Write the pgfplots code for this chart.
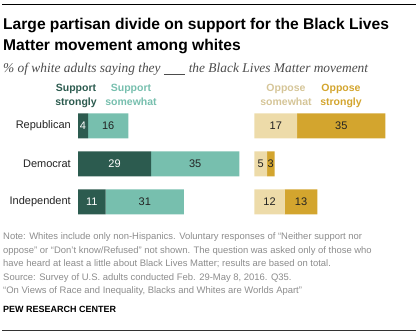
\documentclass[border=0pt]{standalone}
\usepackage{pgfplots}
\pgfplotsset{compat=1.18}
\usepackage{fontspec}
\setmainfont{Liberation Sans}
\newfontfamily\serifit{Liberation Serif}
\definecolor{sstrong}{HTML}{2C5B4F}
\definecolor{ssome}{HTML}{77BFAE}
\definecolor{osome}{HTML}{EDDBA9}
\definecolor{ostrong}{HTML}{D3A52E}
\definecolor{notegray}{HTML}{8C8C8C}
\definecolor{txt}{HTML}{222222}
\begin{document}
\begin{tikzpicture}
\begin{scope}[x=1pt,y=-1pt]
\useasboundingbox (0,0) rectangle (418,336);
\draw[line width=1pt] (2,4.5) -- (416,4.5);
\node[anchor=base west, inner sep=0, font=\bfseries\fontsize{15.6}{17}\selectfont] at (3,29.5) {Large partisan divide on support for the Black Lives};
\node[anchor=base west, inner sep=0, font=\bfseries\fontsize{15.6}{17}\selectfont] at (3,50.5) {Matter movement among whites};
\node[anchor=base west, inner sep=0, font=\serifit\itshape\fontsize{13.4}{15}\selectfont, text=black!70] at (3,73) {\% of white adults saying they \underline{\hspace{1.6em}} the Black Lives Matter movement};
% legend
\begin{scope}[every node/.style={anchor=base, inner sep=0, font=\bfseries\fontsize{10.5}{12}\selectfont}]
\node[text=sstrong] at (76,92) {Support};
\node[text=sstrong] at (76,106) {strongly};
\node[text=ssome] at (131,92) {Support};
\node[text=ssome] at (131,106) {somewhat};
\node[text=osome!90!black] at (286,92) {Oppose};
\node[text=osome!90!black] at (286,106) {somewhat};
\node[text=ostrong] at (341,92) {Oppose};
\node[text=ostrong] at (341,106) {strongly};
\end{scope}
% notes
\begin{scope}[every node/.style={anchor=base west, inner sep=0, text=notegray, font=\fontsize{9.45}{11}\selectfont}]
\node at (3,240) {Note: Whites include only non-Hispanics. Voluntary responses of ``Neither support nor};
\node at (3,253.5) {oppose'' or ``Don't know/Refused'' not shown. The question was asked only of those who};
\node at (3,267) {have heard at least a little about Black Lives Matter; results are based on total.};
\node at (3,280.5) {Source: Survey of U.S. adults conducted Feb. 29-May 8, 2016. Q35.};
\node at (3,294) {``On Views of Race and Inequality, Blacks and Whites are Worlds Apart''};
\end{scope}
\node[anchor=base west, inner sep=0, font=\bfseries\fontsize{9}{11}\selectfont] at (3,313) {PEW RESEARCH CENTER};
\draw[line width=0.8pt, black!80] (2,330) -- (416,330);
\end{scope}
\begin{axis}[
 at={(78pt,-107pt)}, anchor=north west,
 scale only axis, width=327.6pt, height=114pt,
 xmin=0, xmax=130, ymin=-0.5, ymax=2.5, y dir=reverse,
 hide axis, xbar stacked, bar width=25pt, clip=false,
]
\addplot[fill=sstrong, draw=none] coordinates {(4,0) (29,1) (11,2)};
\addplot[fill=ssome, draw=none] coordinates {(16,0) (35,1) (31,2)};
\addplot[draw=none, fill=none] coordinates {(50,0) (6,1) (28,2)};
\addplot[fill=osome, draw=none] coordinates {(17,0) (5,1) (12,2)};
\addplot[fill=ostrong, draw=none] coordinates {(35,0) (3,1) (13,2)};
\end{axis}
\begin{axis}[
 at={(78pt,-107pt)}, anchor=north west,
 scale only axis, width=327.6pt, height=114pt,
 xmin=0, xmax=130, ymin=-0.5, ymax=2.5, y dir=reverse,
 hide axis, clip=false,
 nodes near coords, point meta=explicit symbolic,
 every node near coord/.append style={anchor=center, inner sep=0, font=\fontsize{11}{13}\selectfont},
]
\addplot[draw=none, mark=none, every node near coord/.append style={text=white}] coordinates {(2,0) [4] (14.5,1) [29] (5.5,2) [11]};
\addplot[draw=none, mark=none, every node near coord/.append style={text=txt}] coordinates {(12,0) [16] (46.5,1) [35] (26.5,2) [31] (78.5,0) [17] (104.5,0) [35] (72.5,1) [5] (76.5,1) [3] (76,2) [12] (88.5,2) [13]};
\addplot[draw=none, mark=none, every node near coord/.append style={text=txt, anchor=east, xshift=-7pt}] coordinates {(0,0) [Republican] (0,1) [Democrat] (0,2) [Independent]};
\end{axis}
\end{tikzpicture}
\end{document}
